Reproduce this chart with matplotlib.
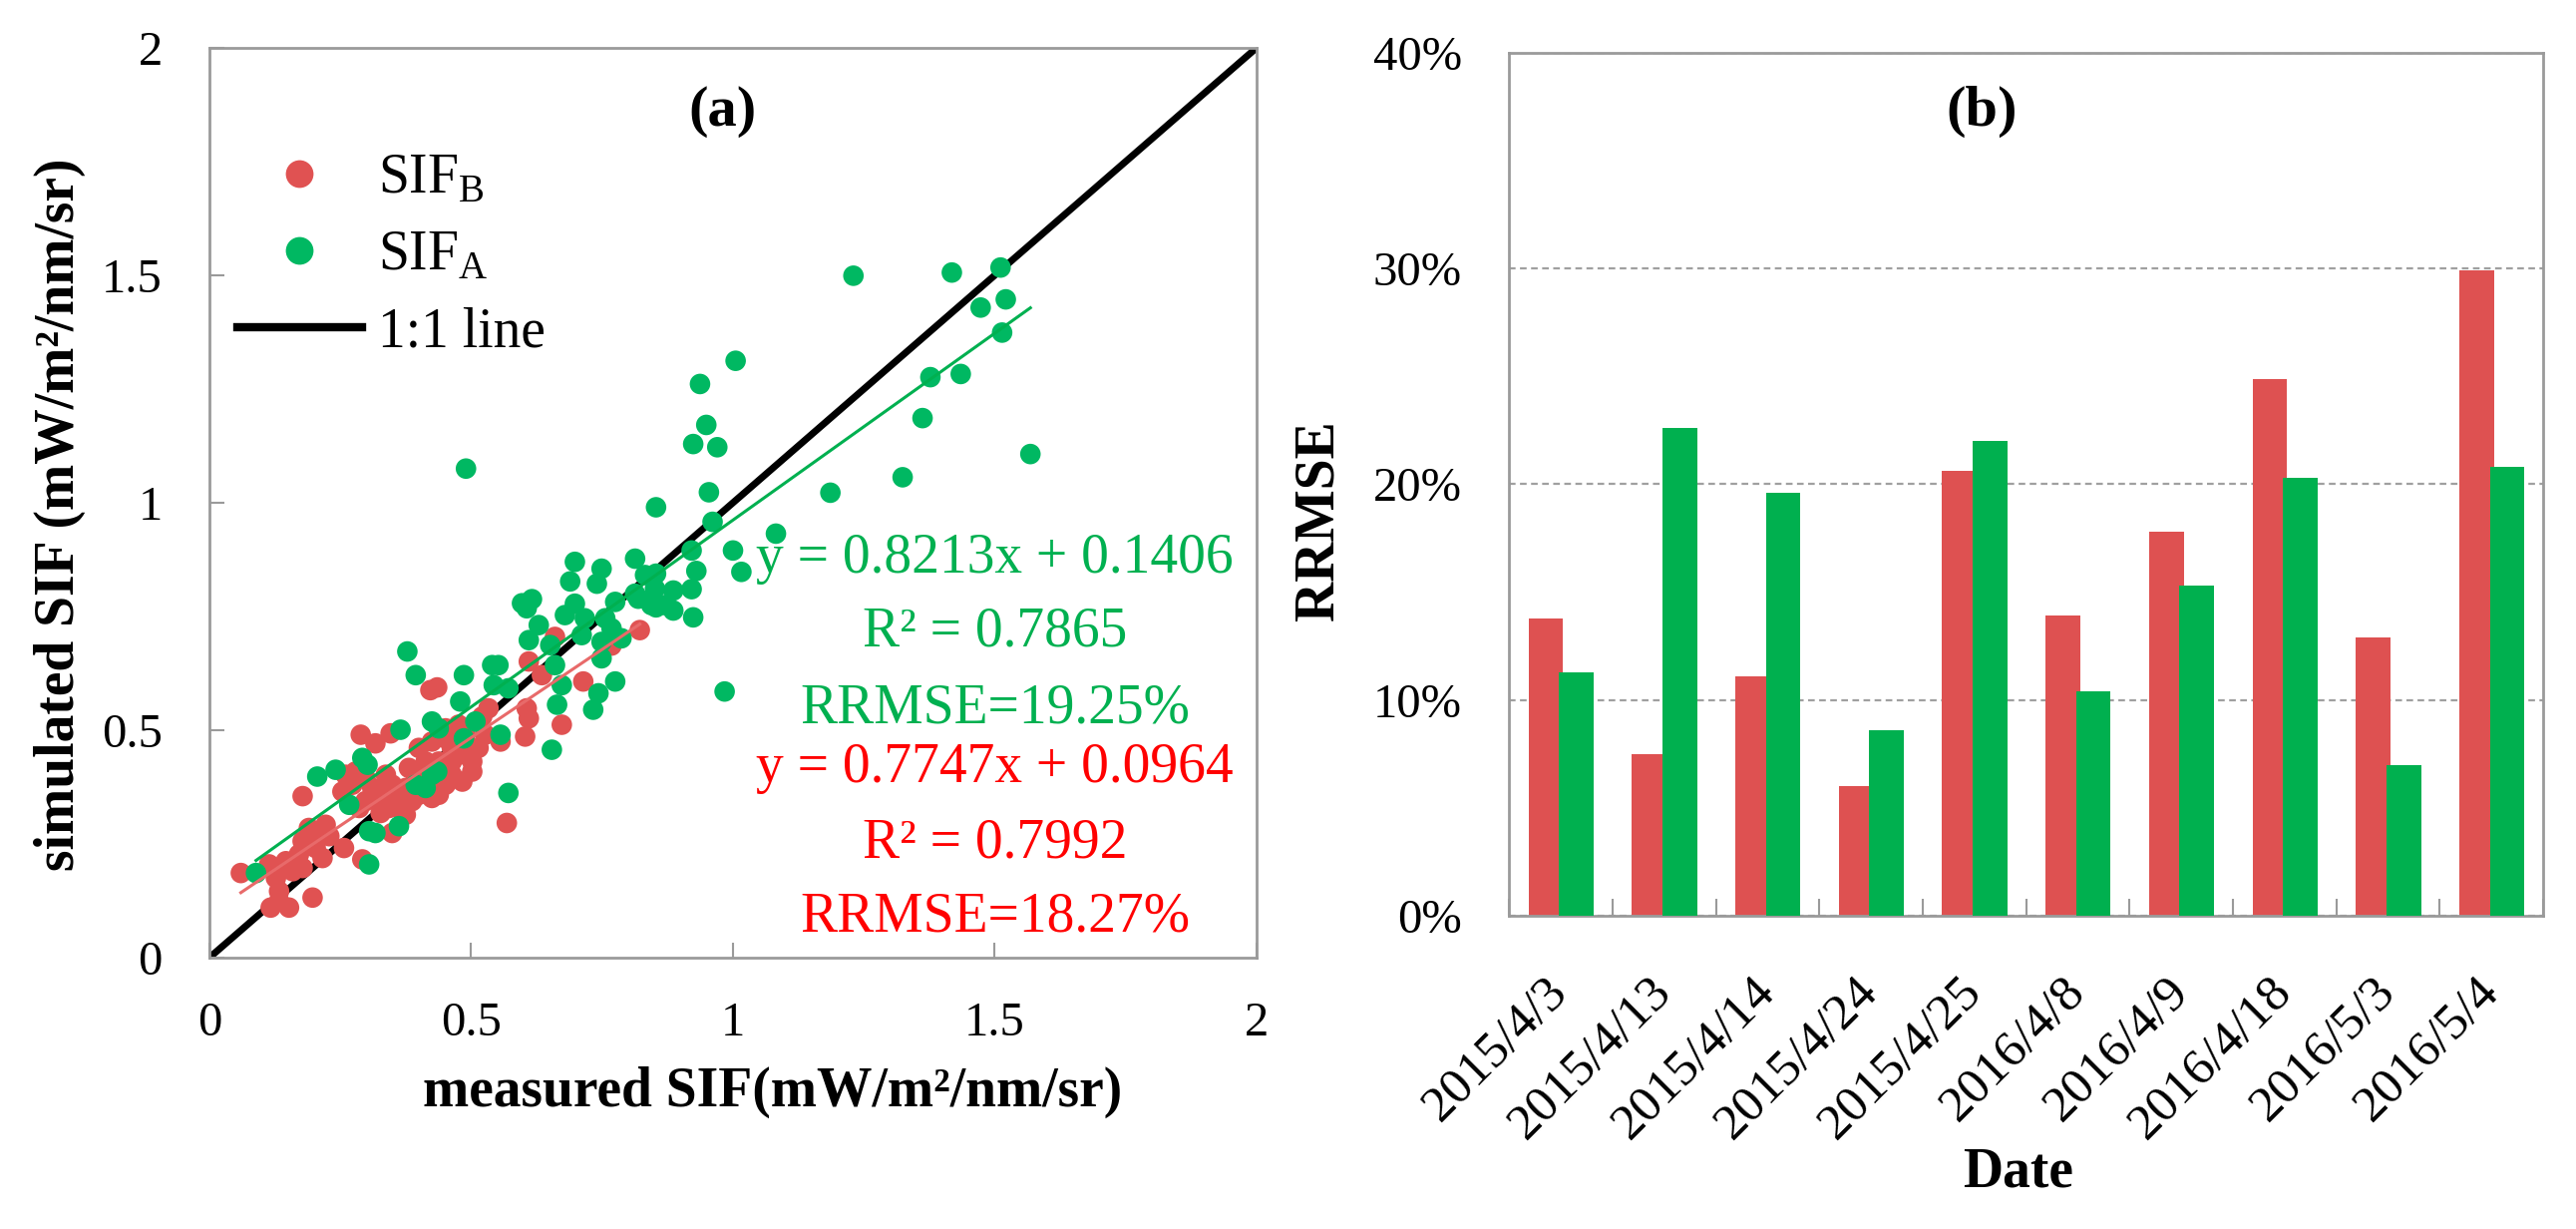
import numpy as np
import matplotlib
matplotlib.use("Agg")
import matplotlib.pyplot as plt
from matplotlib.lines import Line2D

plt.rcParams['font.family'] = ['Liberation Serif', 'DejaVu Serif']
plt.rcParams['mathtext.fontset'] = 'custom'
plt.rcParams['mathtext.rm'] = 'Liberation Serif'

# ---- panel (a): measured vs simulated SIF ----
sifb_measured = [0.822, 0.660, 0.610, 0.635, 0.714, 0.422, 0.435, 0.606, 0.610, 0.673,
                 0.603, 0.556, 0.289, 0.317, 0.346, 0.533, 0.521, 0.260, 0.279, 0.273,
                 0.298, 0.311, 0.324, 0.337, 0.349, 0.362, 0.375, 0.387, 0.400, 0.362,
                 0.375, 0.343, 0.327, 0.413, 0.425, 0.438, 0.451, 0.425, 0.438, 0.413,
                 0.400, 0.425, 0.451, 0.463, 0.476, 0.489, 0.502, 0.514, 0.527, 0.489,
                 0.476, 0.451, 0.502, 0.483, 0.463, 0.394, 0.381, 0.337, 0.298, 0.286,
                 0.425, 0.463, 0.178, 0.254, 0.349, 0.190, 0.210, 0.197, 0.178, 0.222,
                 0.229, 0.171, 0.203, 0.216, 0.178, 0.159, 0.146, 0.127, 0.133, 0.117,
                 0.152, 0.133, 0.197, 0.114, 0.060, 0.257, 0.292, 0.568, 0.768]
sifb_simulated = [0.720, 0.705, 0.651, 0.621, 0.607, 0.588, 0.594, 0.548, 0.526, 0.512,
                  0.486, 0.475, 0.490, 0.471, 0.493, 0.548, 0.530, 0.402, 0.409, 0.380,
                  0.395, 0.373, 0.351, 0.365, 0.380, 0.358, 0.373, 0.344, 0.358, 0.329,
                  0.314, 0.329, 0.318, 0.365, 0.380, 0.358, 0.380, 0.409, 0.431, 0.431,
                  0.461, 0.475, 0.482, 0.461, 0.475, 0.446, 0.431, 0.461, 0.490, 0.490,
                  0.512, 0.504, 0.409, 0.387, 0.402, 0.402, 0.417, 0.402, 0.344, 0.329,
                  0.351, 0.431, 0.355, 0.365, 0.274, 0.285, 0.274, 0.263, 0.256, 0.292,
                  0.267, 0.227, 0.241, 0.219, 0.197, 0.190, 0.212, 0.175, 0.146, 0.110,
                  0.110, 0.124, 0.132, 0.205, 0.186, 0.241, 0.216, 0.296, 0.686]

sifa_measured = [0.698, 0.813, 0.749, 0.689, 0.740, 0.597, 0.616, 0.606, 0.698, 0.679,
                 0.717, 0.629, 0.756, 0.775, 0.832, 0.851, 0.870, 0.844, 0.819, 0.610,
                 0.651, 0.711, 0.749, 0.768, 0.787, 0.378, 0.394, 0.486, 0.540, 0.552,
                 0.660, 0.749, 0.543, 0.571, 0.673, 0.775, 0.743, 0.664, 0.733, 0.479,
                 0.508, 0.425, 0.438, 0.365, 0.556, 0.486, 0.654, 0.292, 0.302, 0.241,
                 0.206, 0.435, 0.425, 0.394, 0.413, 0.571, 0.267, 0.362, 0.305, 0.317,
                 0.305, 0.089, 1.230, 1.418, 1.511, 1.521, 1.473, 1.514, 1.005, 0.937,
                 1.377, 1.435, 0.949, 0.924, 0.970, 1.362, 1.568, 1.324, 1.186, 0.954,
                 0.853, 0.961, 1.082, 1.000, 1.016, 0.921, 0.930, 0.921, 0.924, 0.886,
                 0.886, 0.853, 0.853, 0.984, 0.813, 0.490]
sifa_simulated = [0.870, 0.877, 0.855, 0.827, 0.822, 0.779, 0.788, 0.768, 0.778, 0.753,
                  0.746, 0.731, 0.746, 0.782, 0.841, 0.811, 0.775, 0.775, 0.789, 0.698,
                  0.687, 0.709, 0.694, 0.724, 0.702, 0.673, 0.621, 0.621, 0.643, 0.643,
                  0.643, 0.658, 0.599, 0.592, 0.599, 0.607, 0.581, 0.556, 0.545, 0.563,
                  0.519, 0.519, 0.504, 0.501, 0.490, 0.482, 0.457, 0.439, 0.424, 0.413,
                  0.398, 0.409, 0.402, 0.380, 0.373, 0.362, 0.336, 0.289, 0.278, 0.274,
                  0.205, 0.186, 1.499, 1.506, 1.517, 1.447, 1.429, 1.374, 1.312, 1.261,
                  1.276, 1.283, 1.171, 1.129, 1.122, 1.186, 1.107, 1.056, 1.022, 1.023,
                  0.990, 0.958, 0.932, 0.895, 0.848, 0.895, 0.850, 0.810, 0.748, 0.763,
                  0.807, 0.844, 0.770, 0.585, 0.800, 1.075]

fit_b = (0.7747, 0.0964)   # slope, intercept
fit_a = (0.8213, 0.1406)
stats_b = ["y = 0.7747x + 0.0964", "R² = 0.7992", "RRMSE=18.27%"]
stats_a = ["y = 0.8213x + 0.1406", "R² = 0.7865", "RRMSE=19.25%"]
axis_ticks = [0, 0.5, 1, 1.5, 2]
axis_ticklabels = ["0", "0.5", "1", "1.5", "2"]

# ---- panel (b): RRMSE per date ----
dates = ["2015/4/3", "2015/4/13", "2015/4/14", "2015/4/24", "2015/4/25",
         "2016/4/8", "2016/4/9", "2016/4/18", "2016/5/3", "2016/5/4"]
rrmse_b = [13.8, 7.5, 11.1, 6.0, 20.6, 13.9, 17.8, 24.9, 12.9, 29.9]
rrmse_a = [11.3, 22.6, 19.6, 8.6, 22.0, 10.4, 15.3, 20.3, 7.0, 20.8]
pct_ticks = [0, 10, 20, 30, 40]

RED = "#E05252"
GREEN = "#00B862"
BAR_RED = "#DE5151"
BAR_GREEN = "#00B04F"
SPINE = "#9a9a9a"

fig = plt.figure(figsize=(25.83, 12.32), dpi=100)
ax1 = fig.add_axes([0.0813, 0.2208, 0.4065, 0.7403])
ax2 = fig.add_axes([0.5858, 0.2549, 0.4015, 0.7021])

# panel a
ax1.plot([0, 2], [0, 2], color="black", lw=5, zorder=1, solid_capstyle="butt")
ax1.scatter(sifb_measured, sifb_simulated, s=220, color=RED, edgecolors="none", zorder=2)
ax1.scatter(sifa_measured, sifa_simulated, s=220, color=GREEN, edgecolors="none", zorder=3)
xb = np.array([min(sifb_measured), max(sifb_measured)])
xa = np.array([min(sifa_measured), max(sifa_measured)])
ax1.plot(xb, fit_b[0] * xb + fit_b[1], color="#E86A6A", lw=2.2, zorder=4)
ax1.plot(xa, fit_a[0] * xa + fit_a[1], color="#00B050", lw=2.2, zorder=4)

ax1.set_xlim(0, 2)
ax1.set_ylim(0, 2)
ax1.set_xticks(axis_ticks)
ax1.set_xticklabels(axis_ticklabels)
ax1.set_yticks(axis_ticks)
ax1.set_yticklabels(axis_ticklabels)
ax1.tick_params(axis="both", direction="in", length=11, width=1.5, color=SPINE,
                labelsize=35, pad=34)
ax1.tick_params(axis="x", pad=32)

for tx, ty, s in zip([1.5] * 3, [0.877, 0.716, 0.548], stats_a):
    ax1.text(tx, ty, s, color="#00B050", fontsize=40, ha="center", va="center", zorder=5)
for tx, ty, s in zip([1.5] * 3, [0.417, 0.252, 0.088], stats_b):
    ax1.text(tx, ty, s, color="#FF0000", fontsize=40, ha="center", va="center", zorder=5)

ax1.text(0.49, 0.93, "(a)", transform=ax1.transAxes, fontsize=42, fontweight="bold",
         ha="center", va="center")

handles = [Line2D([], [], marker="o", ls="none", color=RED, markersize=20, markeredgewidth=0),
           Line2D([], [], marker="o", ls="none", color=GREEN, markersize=20, markeredgewidth=0),
           Line2D([], [], color="black", lw=6)]
ax1.legend(handles, [r"SIF$_\mathrm{B}$", r"SIF$_\mathrm{A}$", "1:1 line"],
           loc="upper left", bbox_to_anchor=(0.0, 0.915), frameon=False, fontsize=40,
           handlelength=2.25, handletextpad=0.3, labelspacing=0.45, borderpad=0.2,
           borderaxespad=0.3)

ax1.set_xlabel("measured SIF(mW/m²/nm/sr)", fontsize=40, fontweight="bold", va="center")
ax1.xaxis.set_label_coords(0.538, -0.148)
ax1.set_ylabel("simulated SIF (mW/m²/nm/sr)", fontsize=40, fontweight="bold", va="center")
ax1.yaxis.set_label_coords(-0.143, 0.487)

# panel b
x = np.arange(len(dates))
ax2.bar(x - 0.145, rrmse_b, 0.335, color=BAR_RED, zorder=2)
ax2.bar(x + 0.15, rrmse_a, 0.335, color=BAR_GREEN, zorder=3)
ax2.set_xlim(-0.5, len(dates) - 0.5)
ax2.set_ylim(0, 40)
ax2.set_yticks(pct_ticks)
ax2.set_yticklabels([f"{t}%" for t in pct_ticks])
ax2.set_xticks(x)
ax2.set_xticklabels(dates, rotation=45, ha="right", rotation_mode="anchor", va="center")
ax2.set_xticks(np.arange(-0.5, len(dates)), minor=True)
ax2.tick_params(axis="x", which="major", length=0, labelsize=37, pad=50)
ax2.tick_params(axis="x", which="minor", direction="in", length=12, width=1.5, color=SPINE)
ax2.tick_params(axis="y", direction="in", length=0, labelsize=35, pad=34)
ax2.yaxis.grid(True, color="#a0a0a0", lw=1.6, linestyle=(0, (3, 2)))
ax2.set_axisbelow(True)

ax2.text(0.457, 0.932, "(b)", transform=ax2.transAxes, fontsize=42, fontweight="bold",
         ha="center", va="center")
ax2.set_xlabel("Date", fontsize=40, fontweight="bold", va="center")
ax2.xaxis.set_label_coords(0.492, -0.298)
ax2.set_ylabel("RRMSE", fontsize=40, fontweight="bold", va="center")
ax2.yaxis.set_label_coords(-0.184, 0.458)

for ax in (ax1, ax2):
    for sp in ax.spines.values():
        sp.set_color(SPINE)
        sp.set_linewidth(2)

fig.savefig("out.png", dpi=100)
